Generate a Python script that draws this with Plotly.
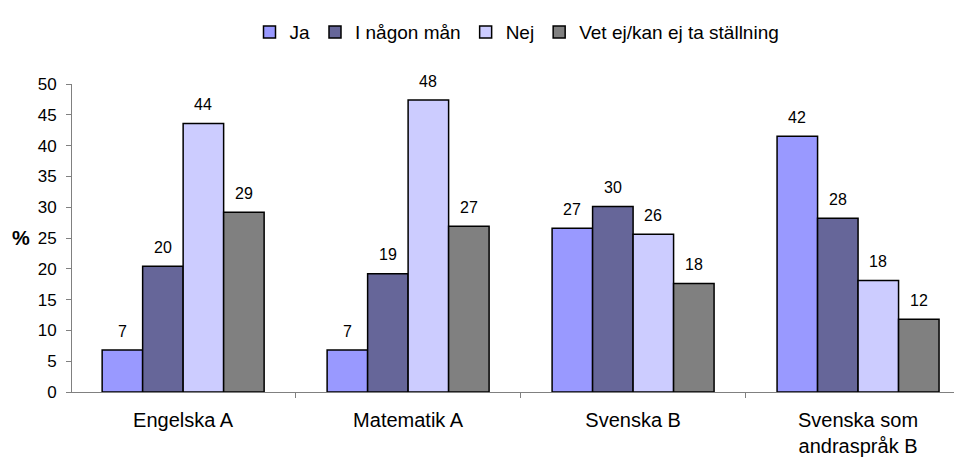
import plotly.graph_objects as go

categories = ["Engelska A", "Matematik A", "Svenska B", "Svenska som<br>andraspråk B"]
series_names = ["Ja", "I någon mån", "Nej", "Vet ej/kan ej ta ställning"]
ja = [6.8, 6.8, 26.6, 41.5]
nagon = [20.4, 19.2, 30.1, 28.2]
nej = [43.6, 47.4, 25.6, 18.1]
vet = [29.2, 26.9, 17.6, 11.8]
ja_lbl = ["7", "7", "27", "42"]
nagon_lbl = ["20", "19", "30", "28"]
nej_lbl = ["44", "48", "26", "18"]
vet_lbl = ["29", "27", "18", "12"]
colors = ["#9999FF", "#666699", "#CCCCFF", "#808080"]
y_ticks = [0, 5, 10, 15, 20, 25, 30, 35, 40, 45, 50]

series = [ja, nagon, nej, vet]
labels = [ja_lbl, nagon_lbl, nej_lbl, vet_lbl]

FONT = "Arial, Liberation Sans, sans-serif"
group_width = 0.72
bw = group_width / len(series)
xs = list(range(len(categories)))

fig = go.Figure()
annotations = []
for k, (name, vals, lbls, col) in enumerate(zip(series_names, series, labels, colors)):
    off = -group_width / 2 + k * bw
    fig.add_trace(go.Bar(
        x=xs, y=vals, name=name, width=bw, offset=off,
        marker=dict(color=col, line=dict(color="black", width=1.5)),
    ))
    for i, (v, t) in enumerate(zip(vals, lbls)):
        annotations.append(dict(
            x=i + off + bw / 2, y=v, xref="x", yref="y", text=t,
            showarrow=False, yanchor="middle", yshift=19,
            font=dict(family=FONT, size=16, color="black"),
        ))

annotations.append(dict(
    x=0, y=0.5, xref="paper", yref="paper", text="<b>%</b>", showarrow=False,
    xanchor="center", yanchor="middle", xshift=-51,
    font=dict(family=FONT, size=20, color="black"),
))

fig.update_layout(
    width=954, height=456,
    margin=dict(l=64, r=0, t=76, b=72, autoexpand=False),
    plot_bgcolor="white", paper_bgcolor="white",
    font=dict(family=FONT, color="black"),
    barmode="overlay",
    showlegend=True,
    legend=dict(orientation="h", x=0.5, xanchor="center", y=1.23, yanchor="top",
                font=dict(family=FONT, size=19), traceorder="normal",
                itemwidth=30),
    annotations=annotations,
    xaxis=dict(
        range=[-0.494, 3.462], tickmode="array", tickvals=xs, ticktext=categories,
        showline=True, linecolor="#808080", linewidth=1, ticks="", showgrid=False,
        zeroline=False, tickfont=dict(family=FONT, size=20), ticklabelstandoff=10,
        automargin=False,
        minor=dict(tickmode="array", tickvals=[0.5, 1.5, 2.5], ticks="outside",
                   ticklen=5, tickcolor="#808080", showgrid=False),
    ),
    yaxis=dict(
        range=[0, 50], tickmode="array", tickvals=y_ticks, automargin=False,
        showline=True, linecolor="#808080", linewidth=1, ticks="outside",
        ticklen=5, tickcolor="#808080", showgrid=False, zeroline=False,
        tickfont=dict(family=FONT, size=17), ticklabelstandoff=6,
    ),
)

fig.write_html("out.html")
